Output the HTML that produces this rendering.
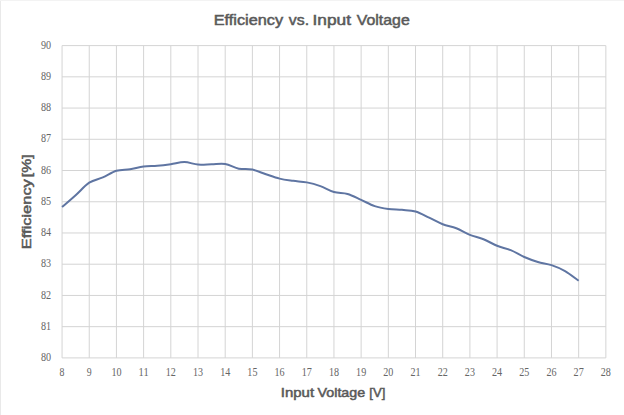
<!DOCTYPE html>
<html><head><meta charset="utf-8"><style>
html,body{margin:0;padding:0;background:#fff;}
body{width:624px;height:415px;overflow:hidden;}
svg{display:block;}
</style></head><body>
<svg width="624" height="415" viewBox="0 0 624 415">
<rect x="0" y="0" width="624" height="415" fill="#fff"/>
<rect x="0" y="0" width="1" height="415" fill="#e9e9e9"/>
<rect x="0" y="0" width="624" height="1" fill="#f3f3f3"/>
<g stroke="#d4d4d4" stroke-width="1" fill="none">
<line x1="62.05" y1="45.60" x2="62.05" y2="357.90"/>
<line x1="89.24" y1="45.60" x2="89.24" y2="357.90"/>
<line x1="116.43" y1="45.60" x2="116.43" y2="357.90"/>
<line x1="143.62" y1="45.60" x2="143.62" y2="357.90"/>
<line x1="170.81" y1="45.60" x2="170.81" y2="357.90"/>
<line x1="198.00" y1="45.60" x2="198.00" y2="357.90"/>
<line x1="225.19" y1="45.60" x2="225.19" y2="357.90"/>
<line x1="252.38" y1="45.60" x2="252.38" y2="357.90"/>
<line x1="279.57" y1="45.60" x2="279.57" y2="357.90"/>
<line x1="306.76" y1="45.60" x2="306.76" y2="357.90"/>
<line x1="333.95" y1="45.60" x2="333.95" y2="357.90"/>
<line x1="361.14" y1="45.60" x2="361.14" y2="357.90"/>
<line x1="388.33" y1="45.60" x2="388.33" y2="357.90"/>
<line x1="415.52" y1="45.60" x2="415.52" y2="357.90"/>
<line x1="442.71" y1="45.60" x2="442.71" y2="357.90"/>
<line x1="469.90" y1="45.60" x2="469.90" y2="357.90"/>
<line x1="497.09" y1="45.60" x2="497.09" y2="357.90"/>
<line x1="524.28" y1="45.60" x2="524.28" y2="357.90"/>
<line x1="551.47" y1="45.60" x2="551.47" y2="357.90"/>
<line x1="578.66" y1="45.60" x2="578.66" y2="357.90"/>
<line x1="605.85" y1="45.60" x2="605.85" y2="357.90"/>
<line x1="62.05" y1="357.90" x2="605.85" y2="357.90"/>
<line x1="62.05" y1="326.67" x2="605.85" y2="326.67"/>
<line x1="62.05" y1="295.44" x2="605.85" y2="295.44"/>
<line x1="62.05" y1="264.21" x2="605.85" y2="264.21"/>
<line x1="62.05" y1="232.98" x2="605.85" y2="232.98"/>
<line x1="62.05" y1="201.75" x2="605.85" y2="201.75"/>
<line x1="62.05" y1="170.52" x2="605.85" y2="170.52"/>
<line x1="62.05" y1="139.29" x2="605.85" y2="139.29"/>
<line x1="62.05" y1="108.06" x2="605.85" y2="108.06"/>
<line x1="62.05" y1="76.83" x2="605.85" y2="76.83"/>
<line x1="62.05" y1="45.60" x2="605.85" y2="45.60"/>
</g>
<path d="M62.05,207.06 C64.32,205.08 71.11,199.25 75.64,195.19 C80.18,191.13 84.71,185.67 89.24,182.70 C93.77,179.73 98.30,179.37 102.84,177.39 C107.37,175.41 111.90,172.19 116.43,170.83 C120.96,169.48 125.49,170.00 130.03,169.27 C134.56,168.54 139.09,167.03 143.62,166.46 C148.15,165.89 152.68,166.20 157.22,165.84 C161.75,165.47 166.28,164.90 170.81,164.27 C175.34,163.65 179.87,162.04 184.41,162.09 C188.94,162.14 193.47,164.22 198.00,164.59 C202.53,164.95 207.06,164.38 211.60,164.27 C216.13,164.17 220.66,163.23 225.19,163.96 C229.72,164.69 234.25,167.71 238.79,168.65 C243.32,169.58 247.85,168.65 252.38,169.58 C256.91,170.52 261.44,172.76 265.98,174.27 C270.51,175.78 275.04,177.55 279.57,178.64 C284.10,179.73 288.63,180.20 293.17,180.83 C297.70,181.45 302.23,181.50 306.76,182.39 C311.29,183.27 315.82,184.52 320.36,186.13 C324.89,187.75 329.42,190.77 333.95,192.07 C338.48,193.37 343.01,192.64 347.55,193.94 C352.08,195.24 356.61,197.85 361.14,199.88 C365.67,201.91 370.20,204.61 374.74,206.12 C379.27,207.63 383.80,208.31 388.33,208.93 C392.86,209.56 397.39,209.45 401.93,209.87 C406.46,210.29 410.99,210.13 415.52,211.43 C420.05,212.73 424.58,215.54 429.12,217.68 C433.65,219.81 438.18,222.47 442.71,224.24 C447.24,226.01 451.77,226.53 456.31,228.30 C460.84,230.07 465.37,233.03 469.90,234.85 C474.43,236.68 478.96,237.40 483.50,239.23 C488.03,241.05 492.56,243.96 497.09,245.78 C501.62,247.61 506.15,248.28 510.69,250.16 C515.22,252.03 519.75,255.05 524.28,257.03 C528.81,259.00 533.34,260.67 537.88,262.02 C542.41,263.38 546.94,263.64 551.47,265.15 C556.00,266.66 560.53,268.48 565.07,271.08 C569.60,273.68 576.39,279.15 578.66,280.76" fill="none" stroke="#5f75a2" stroke-width="2.0" stroke-linejoin="round" stroke-linecap="butt"/>
<g font-family="Liberation Serif, serif" font-size="11.8" fill="#666666" text-anchor="end">
<text x="51.0" y="361.10" textLength="10.1" lengthAdjust="spacingAndGlyphs">80</text>
<text x="51.0" y="329.87" textLength="10.1" lengthAdjust="spacingAndGlyphs">81</text>
<text x="51.0" y="298.64" textLength="10.1" lengthAdjust="spacingAndGlyphs">82</text>
<text x="51.0" y="267.41" textLength="10.1" lengthAdjust="spacingAndGlyphs">83</text>
<text x="51.0" y="236.18" textLength="10.1" lengthAdjust="spacingAndGlyphs">84</text>
<text x="51.0" y="204.95" textLength="10.1" lengthAdjust="spacingAndGlyphs">85</text>
<text x="51.0" y="173.72" textLength="10.1" lengthAdjust="spacingAndGlyphs">86</text>
<text x="51.0" y="142.49" textLength="10.1" lengthAdjust="spacingAndGlyphs">87</text>
<text x="51.0" y="111.26" textLength="10.1" lengthAdjust="spacingAndGlyphs">88</text>
<text x="51.0" y="80.03" textLength="10.1" lengthAdjust="spacingAndGlyphs">89</text>
<text x="51.0" y="48.80" textLength="10.1" lengthAdjust="spacingAndGlyphs">90</text>
</g>
<g font-family="Liberation Serif, serif" font-size="11.8" fill="#666666" text-anchor="middle">
<text x="62.05" y="376.0" textLength="4.90" lengthAdjust="spacingAndGlyphs">8</text>
<text x="89.24" y="376.0" textLength="4.90" lengthAdjust="spacingAndGlyphs">9</text>
<text x="116.43" y="376.0" textLength="10.10" lengthAdjust="spacingAndGlyphs">10</text>
<text x="143.62" y="376.0" textLength="10.10" lengthAdjust="spacingAndGlyphs">11</text>
<text x="170.81" y="376.0" textLength="10.10" lengthAdjust="spacingAndGlyphs">12</text>
<text x="198.00" y="376.0" textLength="10.10" lengthAdjust="spacingAndGlyphs">13</text>
<text x="225.19" y="376.0" textLength="10.10" lengthAdjust="spacingAndGlyphs">14</text>
<text x="252.38" y="376.0" textLength="10.10" lengthAdjust="spacingAndGlyphs">15</text>
<text x="279.57" y="376.0" textLength="10.10" lengthAdjust="spacingAndGlyphs">16</text>
<text x="306.76" y="376.0" textLength="10.10" lengthAdjust="spacingAndGlyphs">17</text>
<text x="333.95" y="376.0" textLength="10.10" lengthAdjust="spacingAndGlyphs">18</text>
<text x="361.14" y="376.0" textLength="10.10" lengthAdjust="spacingAndGlyphs">19</text>
<text x="388.33" y="376.0" textLength="10.10" lengthAdjust="spacingAndGlyphs">20</text>
<text x="415.52" y="376.0" textLength="10.10" lengthAdjust="spacingAndGlyphs">21</text>
<text x="442.71" y="376.0" textLength="10.10" lengthAdjust="spacingAndGlyphs">22</text>
<text x="469.90" y="376.0" textLength="10.10" lengthAdjust="spacingAndGlyphs">23</text>
<text x="497.09" y="376.0" textLength="10.10" lengthAdjust="spacingAndGlyphs">24</text>
<text x="524.28" y="376.0" textLength="10.10" lengthAdjust="spacingAndGlyphs">25</text>
<text x="551.47" y="376.0" textLength="10.10" lengthAdjust="spacingAndGlyphs">26</text>
<text x="578.66" y="376.0" textLength="10.10" lengthAdjust="spacingAndGlyphs">27</text>
<text x="605.85" y="376.0" textLength="10.10" lengthAdjust="spacingAndGlyphs">28</text>
</g>
<g font-family="Liberation Sans, sans-serif" font-weight="normal" font-size="14.40" fill="#595959" stroke="#595959" stroke-width="0.5">
<text x="213.71" y="25.20" textLength="69.48" lengthAdjust="spacingAndGlyphs">Efficiency</text>
<text x="288.81" y="25.20" textLength="20.25" lengthAdjust="spacingAndGlyphs">vs.</text>
<text x="312.55" y="25.20" textLength="38.49" lengthAdjust="spacingAndGlyphs">Input</text>
<text x="356.82" y="25.20" textLength="52.89" lengthAdjust="spacingAndGlyphs">Voltage</text>
<text x="280.81" y="397.20" font-size="12.80" textLength="33.29" lengthAdjust="spacingAndGlyphs">Input</text>
<text x="317.56" y="397.20" font-size="12.80" textLength="47.62" lengthAdjust="spacingAndGlyphs">Voltage</text>
<text x="369.35" y="397.20" font-size="12.80" textLength="15.98" lengthAdjust="spacingAndGlyphs">[V]</text>
<text transform="translate(30.60,249.14) rotate(-90)" font-size="12.80" textLength="69.93" lengthAdjust="spacingAndGlyphs">Efficiency</text>
<text transform="translate(30.60,177.17) rotate(-90)" font-size="12.80" textLength="22.82" lengthAdjust="spacingAndGlyphs">[%]</text>
</g>
</svg>
</body></html>
